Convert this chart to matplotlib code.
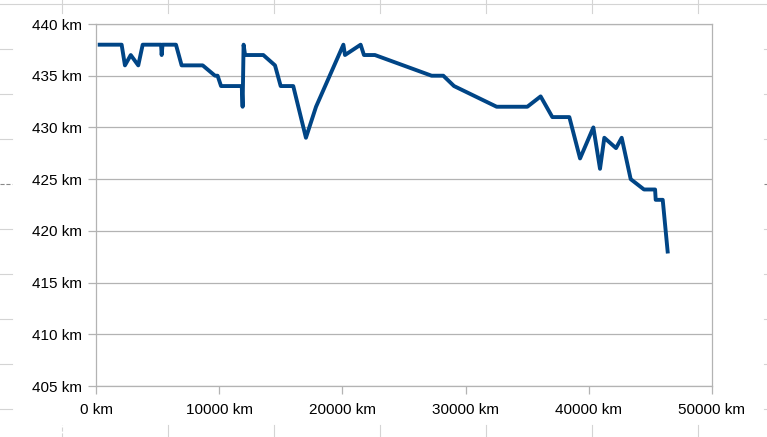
import matplotlib.pyplot as plt
from matplotlib.ticker import FuncFormatter, MultipleLocator
from matplotlib.lines import Line2D

plt.rcParams['font.family'] = ['Liberation Sans', 'DejaVu Sans']

# distance flown (km) and altitude (km)
distance = [300, 2080, 2350, 2820, 3430, 3790, 5280, 5330, 5400, 6490,
            6950, 8660, 9660, 9870, 10150, 11830, 11900, 11980, 12100, 13580,
            14530, 14990, 16010, 17040, 17860, 20080, 20210, 21480, 21750, 22640,
            27240, 28190, 29060, 32520, 35010, 36090, 37040, 38420, 39290, 40370,
            40910, 41260, 42210, 42670, 43400, 44480, 45380, 45430, 46000, 46400]
altitude = [438, 438, 436, 437, 436, 438, 438, 437, 438, 438,
            436, 436, 435, 435, 434, 434, 432, 438, 437, 437,
            436, 434, 434, 429, 432, 438, 437, 438, 437, 437,
            435, 435, 434, 432, 432, 433, 431, 431, 427, 430,
            426, 429, 428, 429, 425, 424, 424, 423, 423, 418]

grey = '#b3b3b3'

fig = plt.figure(figsize=(7.67, 4.37), dpi=100)
ax = fig.add_axes([96 / 767, 1 - 386 / 437, 616 / 767, 362 / 437])

ax.plot(distance, altitude, color='#004586', lw=2.8, solid_joinstyle='round', zorder=3)

ax.set_xlim(0, 50000)
ax.set_ylim(405, 440)
ax.xaxis.set_major_locator(MultipleLocator(10000))
ax.yaxis.set_major_locator(MultipleLocator(5))
ax.xaxis.set_major_formatter(FuncFormatter(lambda v, p: f"{int(v)} km"))
ax.yaxis.set_major_formatter(FuncFormatter(lambda v, p: f"{int(v)} km"))

ax.grid(axis='y', color=grey, lw=0.9)
for s in ax.spines.values():
    s.set_color(grey)
    s.set_linewidth(0.9)
ax.tick_params(axis='both', direction='out', length=6, width=0.9, color=grey,
               labelsize=11, labelcolor='black')
ax.tick_params(axis='y', pad=4)
ax.tick_params(axis='x', pad=6)

# spreadsheet cell grid peeking out around the chart object
cell = '#d4d4d4'
W, H = 767, 437
fig.add_artist(Line2D([0, 1], [1 - 4.3 / H] * 2, color=cell, lw=0.8))
for cx in [62, 168, 274, 380, 486, 592, 698]:
    fig.add_artist(Line2D([cx / W] * 2, [1 - 13 / H, 1], color=cell, lw=0.8))
    fig.add_artist(Line2D([cx / W] * 2, [0, 1 - 425 / H], color=cell, lw=0.8,
                          ls='--' if cx == 62 else '-'))
for ry in [49.3, 94.3, 139.3, 184.3, 229.3, 274.3, 319.3, 364.3, 409.3]:
    st = '--' if ry == 184.3 else '-'
    col = '#888888' if ry == 184.3 else cell
    fig.add_artist(Line2D([0, 12 / W], [1 - ry / H] * 2, color=col, lw=0.8, ls=st))
    fig.add_artist(Line2D([764 / W, 1], [1 - ry / H] * 2, color=col, lw=0.8, ls=st))

fig.savefig('out.png', dpi=100)
